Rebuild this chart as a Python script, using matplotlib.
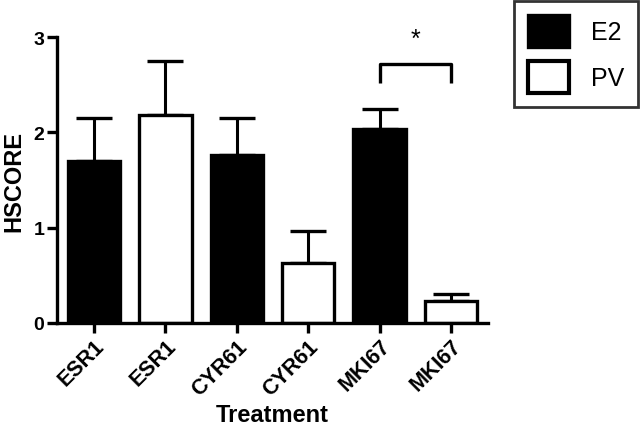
import numpy as np
import matplotlib.pyplot as plt
from matplotlib.patches import Patch

plt.rcParams['font.family'] = ['Liberation Sans', 'DejaVu Sans']

# data
labels = ["ESR1", "ESR1", "CYR61", "CYR61", "MKI67", "MKI67"]
groups = ["E2", "PV", "E2", "PV", "E2", "PV"]
means = [1.70, 2.18, 1.76, 0.63, 2.03, 0.23]
errs = [0.45, 0.57, 0.39, 0.33, 0.21, 0.07]

colors = {"E2": "black", "PV": "white"}
x = np.arange(len(labels))
lw = 2.4

fig = plt.figure(figsize=(6.4, 4.31), dpi=100)
ax = fig.add_axes([57/640, 1-324/431, 431/640, 286/431])

ax.bar(x, means, width=0.73, color=[colors[g] for g in groups],
       edgecolor="black", linewidth=lw, zorder=2)
ax.errorbar(x, means, yerr=[np.zeros(len(errs)), errs], fmt="none",
            ecolor="black", elinewidth=2.2, capsize=13, capthick=2.4, zorder=1)

# significance bracket between the MKI67 bars
ax.plot([4, 4, 5, 5], [2.52, 2.72, 2.72, 2.52], color="black", lw=lw,
        solid_capstyle="butt", clip_on=False)
ax.text(4.5, 2.98, "*", ha="center", va="center", fontsize=18)

ax.set_xlim(-0.52, 5.52)
ax.set_ylim(0, 3)
ax.set_yticks([0, 1, 2, 3])
ax.set_xticks(x)
ax.set_xticklabels(labels, rotation=45, ha="right", rotation_mode="anchor",
                   fontsize=15.5, fontweight="bold")
for t in ax.get_yticklabels():
    t.set_fontsize(14)
    t.set_fontweight("bold")
ax.tick_params(width=lw, length=7, direction="out", pad=2)
ax.spines["top"].set_visible(False)
ax.spines["right"].set_visible(False)
ax.spines["left"].set_linewidth(lw)
ax.spines["bottom"].set_linewidth(lw)
ax.set_ylabel("HSCORE", fontsize=17, fontweight="bold", labelpad=6)
ax.set_xlabel("Treatment", fontsize=17, fontweight="bold", labelpad=3)

handles = [Patch(facecolor="black", edgecolor="black", linewidth=lw, label="E2"),
           Patch(facecolor="white", edgecolor="black", linewidth=3, label="PV")]
leg = fig.legend(handles=handles, loc="upper right", bbox_to_anchor=(638/640, 1-2/431),
                 fontsize=18, frameon=True, fancybox=False, handlelength=1.64,
                 handleheight=1.6, handletextpad=0.9, borderpad=0.55,
                 borderaxespad=0, labelspacing=0.55)
leg.get_frame().set_edgecolor("black")
leg.get_frame().set_linewidth(2)

fig.savefig("out.png", dpi=100)
